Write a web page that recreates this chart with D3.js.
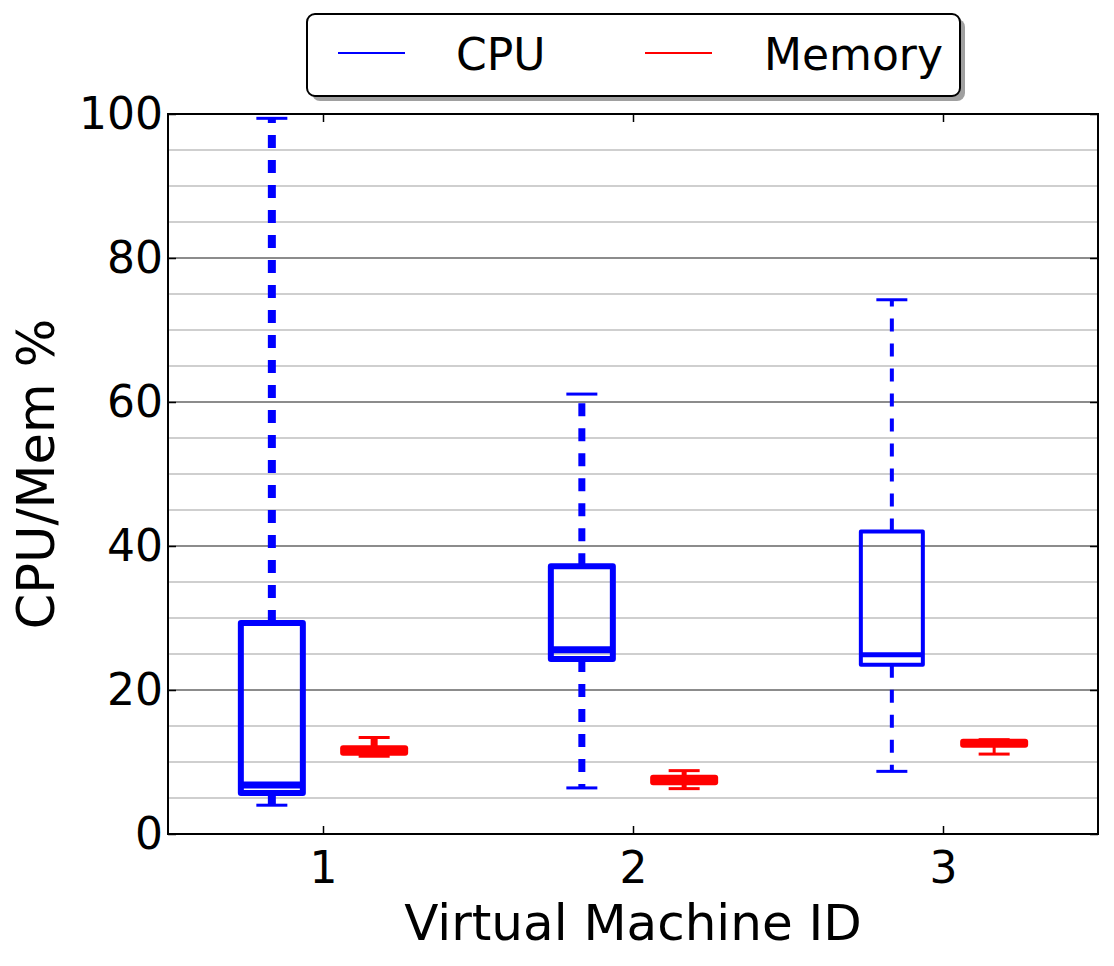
<!DOCTYPE html>
<html><head><meta charset="utf-8">
<script src="https://cdn.jsdelivr.net/npm/d3@7"></script>
<style>body{margin:0;background:#fff}svg{display:block;font-family:"DejaVu Sans",sans-serif}</style>
</head><body><svg id="c" width="1114" height="966"></svg>
<script>
// ---- data ----
const vmIds = [1, 2, 3];
const cpuLow    = [4.0, 6.4, 8.7];
const cpuQ1     = [5.7, 24.3, 23.5];
const cpuMedian = [6.8, 25.6, 24.9];
const cpuQ3     = [29.3, 37.2, 42.0];
const cpuHigh   = [99.4, 61.1, 74.2];
const memLow    = [10.8, 6.3, 11.1];
const memQ1     = [11.3, 7.2, 12.4];
const memMedian = [11.6, 7.5, 12.6];
const memQ3     = [11.9, 7.8, 12.8];
const memHigh   = [13.4, 8.8, 13.1];
const yTicks = [0, 20, 40, 60, 80, 100];
const yMinor = d3.range(5, 100, 5).filter(v => v % 20 !== 0);
const seriesNames = ["CPU", "Memory"];

// ---- styles ----
const colors = {CPU: "#0000ff", Memory: "#ff0000"};
const cpuBoxW = [6, 6, 4], cpuWhiskW = [8, 7, 4];
const memBoxW = [6, 6, 6], memWhiskW = [7, 5, 3];

const svg = d3.select("#c");
const L = 168, R = 1098, T = 114, B = 834;
const x = d3.scaleLinear().domain([0.5, 3.5]).range([L, R]);
const y = d3.scaleLinear().domain([0, 100]).range([B, T]);
const off = 0.165, bw = 0.2;

// grid
svg.append("g").selectAll("line").data(yMinor).join("line")
  .attr("x1", L).attr("x2", R).attr("y1", d => y(d)).attr("y2", d => y(d))
  .attr("stroke", "#cfcfcf").attr("stroke-width", 2);
svg.append("g").selectAll("line").data(yTicks.filter(d => d > 0 && d < 100)).join("line")
  .attr("x1", L).attr("x2", R).attr("y1", d => y(d)).attr("y2", d => y(d))
  .attr("stroke", "#8c8c8c").attr("stroke-width", 2);

// axes ticks (inside)
const gx = svg.append("g").attr("transform", `translate(0,${B})`)
  .call(d3.axisBottom(x).tickValues(vmIds).tickSize(-8).tickPadding(16).tickFormat(d3.format("d")));
const gxt = svg.append("g").attr("transform", `translate(0,${T})`)
  .call(d3.axisTop(x).tickValues(vmIds).tickSize(-8).tickFormat(""));
const gy = svg.append("g").attr("transform", `translate(${L},0)`)
  .call(d3.axisLeft(y).tickValues(yTicks).tickSize(-8).tickPadding(5));
const gyr = svg.append("g").attr("transform", `translate(${R},0)`)
  .call(d3.axisRight(y).tickValues(yTicks).tickSize(-8).tickFormat(""));
[gx, gxt, gy, gyr].forEach(g => {
  g.select(".domain").remove();
  g.selectAll(".tick line").attr("stroke", "#000").attr("stroke-width", 1.5);
  g.selectAll("text").attr("font-size", 44).attr("font-family", "DejaVu Sans").attr("fill", "#000");
});
gx.selectAll("text").attr("dy", "0.75em");

function drawBoxes(name, shift, lo, q1, med, q3, hi, bwArr, wwArr) {
  const g = svg.append("g");
  const col = colors[name];
  vmIds.forEach((id, i) => {
    const cx = x(id + shift), x0 = x(id + shift - bw / 2), x1 = x(id + shift + bw / 2);
    const c0 = x(id + shift - bw / 4), c1 = x(id + shift + bw / 4);
    [[q3[i], hi[i]], [q1[i], lo[i]]].forEach(([a, b]) => {
      g.append("line").attr("x1", cx).attr("x2", cx).attr("y1", y(a)).attr("y2", y(b))
        .attr("stroke", col).attr("stroke-width", wwArr[i]).attr("stroke-dasharray", "13,12");
    });
    [lo[i], hi[i]].forEach(v => {
      g.append("line").attr("x1", c0).attr("x2", c1).attr("y1", y(v)).attr("y2", y(v))
        .attr("stroke", col).attr("stroke-width", 3);
    });
    g.append("rect").attr("x", x0).attr("width", x1 - x0).attr("y", y(q3[i]))
      .attr("height", y(q1[i]) - y(q3[i])).attr("fill", "none")
      .attr("stroke", col).attr("stroke-width", bwArr[i]).attr("stroke-linejoin", "round");
    g.append("line").attr("x1", x0).attr("x2", x1).attr("y1", y(med[i])).attr("y2", y(med[i]))
      .attr("stroke", col).attr("stroke-width", bwArr[i] + 1);
  });
}
drawBoxes("CPU", -off, cpuLow, cpuQ1, cpuMedian, cpuQ3, cpuHigh, cpuBoxW, cpuWhiskW);
drawBoxes("Memory", off, memLow, memQ1, memMedian, memQ3, memHigh, memBoxW, memWhiskW);

// frame
svg.append("rect").attr("x", L).attr("y", T).attr("width", R - L).attr("height", B - T)
  .attr("fill", "none").attr("stroke", "#000").attr("stroke-width", 2);

// axis titles
svg.append("text").attr("x", (L + R) / 2).attr("y", 940).attr("text-anchor", "middle")
  .attr("font-size", 50).text("Virtual Machine ID");
svg.append("text").attr("transform", `translate(54,${(T + B) / 2}) rotate(-90)`)
  .attr("text-anchor", "middle").attr("font-size", 51).text("CPU/Mem %");

// legend
const lg = svg.append("g");
lg.append("rect").attr("x", 312).attr("y", 19).attr("width", 653).attr("height", 82).attr("rx", 8)
  .attr("fill", "#a0a0a0");
lg.append("rect").attr("x", 307).attr("y", 14).attr("width", 653).attr("height", 82).attr("rx", 8)
  .attr("fill", "#fff").attr("stroke", "#000").attr("stroke-width", 2);
const legX = [338, 645], legTX = [456, 764];
seriesNames.forEach((s, i) => {
  lg.append("line").attr("x1", legX[i]).attr("x2", legX[i] + 67).attr("y1", 53).attr("y2", 53)
    .attr("stroke", colors[s]).attr("stroke-width", 2);
  lg.append("text").attr("x", legTX[i]).attr("y", 70).attr("font-size", 44).text(s);
});
</script></body></html>
